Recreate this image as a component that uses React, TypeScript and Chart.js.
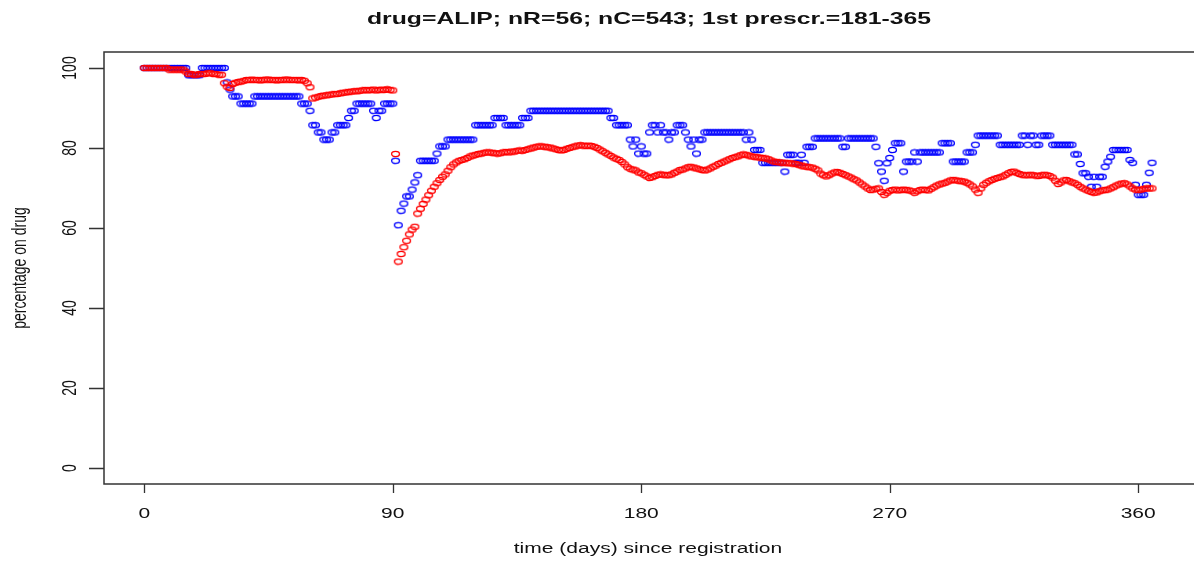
import React, { useEffect, useRef } from "react";
import { Chart, registerables } from "chart.js";

Chart.register(...registerables);

const TITLE = "drug=ALIP; nR=56; nC=543; 1st prescr.=181-365";
const X_TITLE = "time (days) since registration";
const Y_TITLE = "percentage on drug";
const X_TICKS = [0, 90, 180, 270, 360];
const Y_TICKS = [0, 20, 40, 60, 80, 100];

// percentage on drug, control group (nC), day 0..365
const RED_PCT = [
  100, 100, 100, 100, 100, 100, 100, 100, 100, 99.6,
  99.6, 99.6, 99.6, 99.6, 99.6, 99.1, 98.5, 98.5, 98.3, 98.3,
  98.5, 98.5, 98.5, 98.7, 98.7, 98.5, 98.5, 98.3, 98.3, 96.2,
  95.3, 95.0, 96.0, 96.3, 96.5, 96.6, 96.8, 97.0, 97.0, 97.1,
  97.0, 97.0, 96.9, 97.0, 97.1, 97.1, 97.0, 97.0, 96.9, 97.0,
  97.0, 97.1, 97.1, 97.0, 97.0, 97.0, 96.9, 97.0, 96.8, 96.2,
  95.2, 92.4, 92.6, 92.8, 93.0, 93.1, 93.2, 93.3, 93.4, 93.5,
  93.5, 93.7, 93.8, 93.9, 94.0, 94.1, 94.2, 94.2, 94.3, 94.4,
  94.5, 94.4, 94.5, 94.6, 94.4, 94.5, 94.6, 94.5, 94.7, 94.5,
  94.4, 78.5, 51.6, 53.5, 55.2, 56.8, 58.4, 59.6, 60.3, 63.6,
  64.8, 66.0, 67.1, 68.2, 69.3, 70.3, 71.2, 72.0, 72.8, 73.4,
  74.3, 75.2, 75.9, 76.4, 76.8, 77.0, 77.2, 77.5, 77.9, 78.1,
  78.3, 78.5, 78.6, 78.8, 78.9, 78.9, 78.8, 78.7, 78.6, 78.7,
  78.9, 79.0, 78.9, 79.1, 79.1, 79.3, 79.4, 79.3, 79.5, 79.7,
  79.9, 80.1, 80.3, 80.4, 80.4, 80.3, 80.2, 80.1, 79.9, 79.7,
  79.5, 79.4, 79.5, 79.8, 80.0, 80.2, 80.4, 80.6, 80.7, 80.6,
  80.5, 80.6, 80.5, 80.3, 80.0, 79.6, 79.2, 78.8, 78.4, 78.0,
  77.6, 77.3, 77.0, 76.5, 75.9, 75.2, 74.8, 74.6, 74.4, 73.9,
  73.7, 73.3, 72.9, 72.5, 72.7, 73.0, 73.3, 73.4, 73.3, 73.2,
  73.2, 73.4, 73.8, 74.1, 74.5, 74.6, 74.9, 75.2, 75.3, 75.1,
  74.9, 74.7, 74.5, 74.4, 74.6, 74.9, 75.3, 75.6, 76.0, 76.3,
  76.6, 76.9, 77.2, 77.5, 77.7, 77.9, 78.2, 78.4, 78.3, 78.1,
  77.9, 77.8, 77.7, 77.6, 77.5, 77.4, 77.2, 76.9, 76.6, 76.5,
  76.4, 76.3, 76.3, 76.2, 76.2, 76.1, 76.0, 75.8, 75.6, 75.4,
  75.3, 75.2, 75.1, 74.8, 74.4, 73.6, 73.2, 72.9, 73.2, 73.6,
  73.9, 74.0, 73.8, 73.5, 73.2, 72.9, 72.6, 72.2, 71.9, 71.4,
  70.9, 70.4, 69.9, 69.5, 69.6, 69.8, 69.9, 69.0, 68.3, 68.8,
  69.3, 69.5, 69.6, 69.4, 69.5, 69.6, 69.5, 69.4, 69.2, 68.8,
  69.2, 69.5, 69.6, 69.5, 69.4, 69.8, 70.2, 70.6, 70.9, 71.1,
  71.3, 71.6, 71.9, 72.0, 71.9, 71.8, 71.7, 71.6, 71.3, 70.9,
  70.4, 69.6, 68.8, 69.9, 70.8, 71.3, 71.7, 72.0, 72.3, 72.5,
  72.7, 72.9, 73.3, 73.7, 74.0, 74.1, 73.8, 73.5, 73.3, 73.2,
  73.2, 73.3, 73.2, 73.1, 73.0, 73.2, 73.3, 73.2, 73.0, 72.6,
  71.8, 71.0, 71.4, 71.9, 72.0, 71.7, 71.4, 71.2, 70.8, 70.3,
  69.9, 69.6, 69.3, 69.0, 68.8, 68.9, 69.2, 69.4, 69.5, 69.6,
  69.9, 70.2, 70.6, 70.9, 71.1, 71.2, 70.9, 70.4, 69.9, 69.6,
  69.5, 69.6, 69.8, 69.9, 69.9, 69.9,
];

// percentage on drug, registered group (nR), day 0..365
const BLUE_PCT = [
  100, 100, 100, 100, 100, 100, 100, 100, 100, 100,
  100, 100, 100, 100, 100, 100, 98.2, 98.2, 98.2, 98.2,
  98.2, 100, 100, 100, 100, 100, 100, 100, 100, 100,
  96.4, 94.6, 92.9, 92.9, 92.9, 91.1, 91.1, 91.1, 91.1, 91.1,
  92.9, 92.9, 92.9, 92.9, 92.9, 92.9, 92.9, 92.9, 92.9, 92.9,
  92.9, 92.9, 92.9, 92.9, 92.9, 92.9, 92.9, 91.1, 91.1, 91.1,
  89.3, 85.7, 85.7, 83.9, 83.9, 82.1, 82.1, 82.1, 83.9, 83.9,
  85.7, 85.7, 85.7, 85.7, 87.5, 89.3, 89.3, 91.1, 91.1, 91.1,
  91.1, 91.1, 91.1, 89.3, 87.5, 89.3, 89.3, 91.1, 91.1, 91.1,
  91.1, 76.8, 60.7, 64.3, 66.1, 67.9, 67.9, 69.6, 71.4, 73.2,
  76.8, 76.8, 76.8, 76.8, 76.8, 76.8, 78.6, 80.4, 80.4, 80.4,
  82.1, 82.1, 82.1, 82.1, 82.1, 82.1, 82.1, 82.1, 82.1, 82.1,
  85.7, 85.7, 85.7, 85.7, 85.7, 85.7, 85.7, 87.5, 87.5, 87.5,
  87.5, 85.7, 85.7, 85.7, 85.7, 85.7, 85.7, 87.5, 87.5, 87.5,
  89.3, 89.3, 89.3, 89.3, 89.3, 89.3, 89.3, 89.3, 89.3, 89.3,
  89.3, 89.3, 89.3, 89.3, 89.3, 89.3, 89.3, 89.3, 89.3, 89.3,
  89.3, 89.3, 89.3, 89.3, 89.3, 89.3, 89.3, 89.3, 89.3, 87.5,
  87.5, 85.7, 85.7, 85.7, 85.7, 85.7, 82.1, 80.4, 82.1, 78.6,
  80.4, 78.6, 78.6, 83.9, 85.7, 85.7, 83.9, 85.7, 83.9, 83.9,
  82.1, 83.9, 83.9, 85.7, 85.7, 85.7, 83.9, 82.1, 80.4, 82.1,
  78.6, 82.1, 82.1, 83.9, 83.9, 83.9, 83.9, 83.9, 83.9, 83.9,
  83.9, 83.9, 83.9, 83.9, 83.9, 83.9, 83.9, 83.9, 82.1, 83.9,
  82.1, 79.5, 79.5, 79.5, 76.3, 76.3, 76.3, 76.3, 76.3, 76.3,
  76.3, 76.3, 74.1, 78.3, 78.3, 78.3, 76.3, 76.3, 78.3, 76.3,
  80.3, 80.3, 80.3, 82.4, 82.4, 82.4, 82.4, 82.4, 82.4, 82.4,
  82.4, 82.4, 82.4, 80.3, 80.3, 82.4, 82.4, 82.4, 82.4, 82.4,
  82.4, 82.4, 82.4, 82.4, 82.4, 80.3, 76.2, 74.1, 71.8, 76.2,
  77.5, 79.5, 81.2, 81.2, 81.2, 74.1, 76.6, 76.6, 76.6, 78.9,
  76.6, 78.9, 78.9, 78.9, 78.9, 78.9, 78.9, 78.9, 78.9, 81.2,
  81.2, 81.2, 81.2, 76.6, 76.6, 76.6, 76.6, 76.6, 78.9, 78.9,
  78.9, 80.8, 83.1, 83.1, 83.1, 83.1, 83.1, 83.1, 83.1, 83.1,
  80.8, 80.8, 80.8, 80.8, 80.8, 80.8, 80.8, 80.8, 83.1, 83.1,
  80.8, 83.1, 83.1, 80.8, 80.8, 83.1, 83.1, 83.1, 83.1, 80.8,
  80.8, 80.8, 80.8, 80.8, 80.8, 80.8, 80.8, 78.4, 78.4, 76.0,
  73.7, 73.7, 72.8, 70.3, 72.8, 70.3, 72.8, 72.8, 75.3, 76.6,
  77.8, 79.5, 79.5, 79.5, 79.5, 79.5, 79.5, 77.0, 76.3, 70.8,
  68.3, 68.3, 68.3, 70.8, 73.8, 76.3,
];

const SX = 1.5; // horizontal stretch of the reference image

function ellipseMarker(color: string): HTMLCanvasElement {
  const c = document.createElement("canvas");
  c.width = 11;
  c.height = 8;
  const g = c.getContext("2d")!;
  g.strokeStyle = color;
  g.lineWidth = 1.35;
  g.beginPath();
  g.ellipse(5.5, 4, 3.9, 2.6, 0, 0, Math.PI * 2);
  g.stroke();
  return c;
}

const framePlugin = {
  id: "rframe",
  afterDraw(chart: any) {
    const { ctx, chartArea: a, scales } = chart;
    ctx.save();
    ctx.strokeStyle = "#333";
    ctx.lineWidth = 1.5;
    ctx.beginPath();
    ctx.moveTo(a.right + 10, a.top);
    ctx.lineTo(a.left, a.top);
    ctx.lineTo(a.left, a.bottom);
    ctx.lineTo(a.right + 10, a.bottom);
    ctx.stroke();

    ctx.lineWidth = 1.3;
    ctx.beginPath();
    X_TICKS.forEach((v) => {
      const px = Math.round(scales.x.getPixelForValue(v)) + 0.5;
      ctx.moveTo(px, a.bottom);
      ctx.lineTo(px, a.bottom + 9);
    });
    Y_TICKS.forEach((v) => {
      const py = Math.round(scales.y.getPixelForValue(v)) + 0.5;
      ctx.moveTo(a.left - 15, py);
      ctx.lineTo(a.left, py);
    });
    ctx.stroke();

    const text = (s: string, x: number, y: number, font: string, rot: boolean) => {
      ctx.save();
      ctx.translate(x, y);
      ctx.scale(SX, 1);
      if (rot) ctx.rotate(-Math.PI / 2);
      ctx.font = font;
      ctx.fillStyle = "#111";
      ctx.textAlign = "center";
      ctx.textBaseline = "middle";
      ctx.fillText(s, 0, 0);
      ctx.restore();
    };

    const tickFont = "14px 'Liberation Sans', Arial, sans-serif";
    X_TICKS.forEach((v) => text(String(v), scales.x.getPixelForValue(v), 514, tickFont, false));
    Y_TICKS.forEach((v) => text(String(v), 70, scales.y.getPixelForValue(v), tickFont, true));
    text(X_TITLE, 648, 549, tickFont, false);
    text(Y_TITLE, 20, (a.top + a.bottom) / 2, tickFont, true);
    text(TITLE, 649, 19, "bold 16.5px 'Liberation Sans', Arial, sans-serif", false);
    ctx.restore();
  },
};

export default function App() {
  const ref = useRef<HTMLCanvasElement | null>(null);

  useEffect(() => {
    if (!ref.current) return;
    const redMarker = ellipseMarker("#FF0000");
    const blueMarker = ellipseMarker("#0000FF");
    const chart = new Chart(ref.current, {
      type: "scatter",
      data: {
        datasets: [
          {
            label: "nC",
            data: RED_PCT.map((v, i) => ({ x: i, y: v })),
            pointStyle: redMarker as any,
            pointRadius: 4,
            borderColor: "#FF0000",
            backgroundColor: "rgba(0,0,0,0)",
          },
          {
            label: "nR",
            data: BLUE_PCT.map((v, i) => ({ x: i, y: v })),
            pointStyle: blueMarker as any,
            pointRadius: 4,
            borderColor: "#0000FF",
            backgroundColor: "rgba(0,0,0,0)",
          },
        ],
      },
      options: {
        responsive: false,
        animation: false,
        events: [],
        devicePixelRatio: 1,
        layout: { padding: { left: 104, top: 52, right: 0, bottom: 79 } },
        plugins: { legend: { display: false }, tooltip: { enabled: false }, title: { display: false } },
        scales: {
          x: { type: "linear", min: -14.6, max: 378.4, display: false },
          y: { type: "linear", min: -4, max: 104, display: false },
        },
      },
      plugins: [framePlugin],
    });
    return () => chart.destroy();
  }, []);

  return (
    <div style={{ position: "absolute", left: 0, top: 0, width: 1194, height: 563, background: "#fff" }}>
      <canvas ref={ref} width={1194} height={563} />
    </div>
  );
}
